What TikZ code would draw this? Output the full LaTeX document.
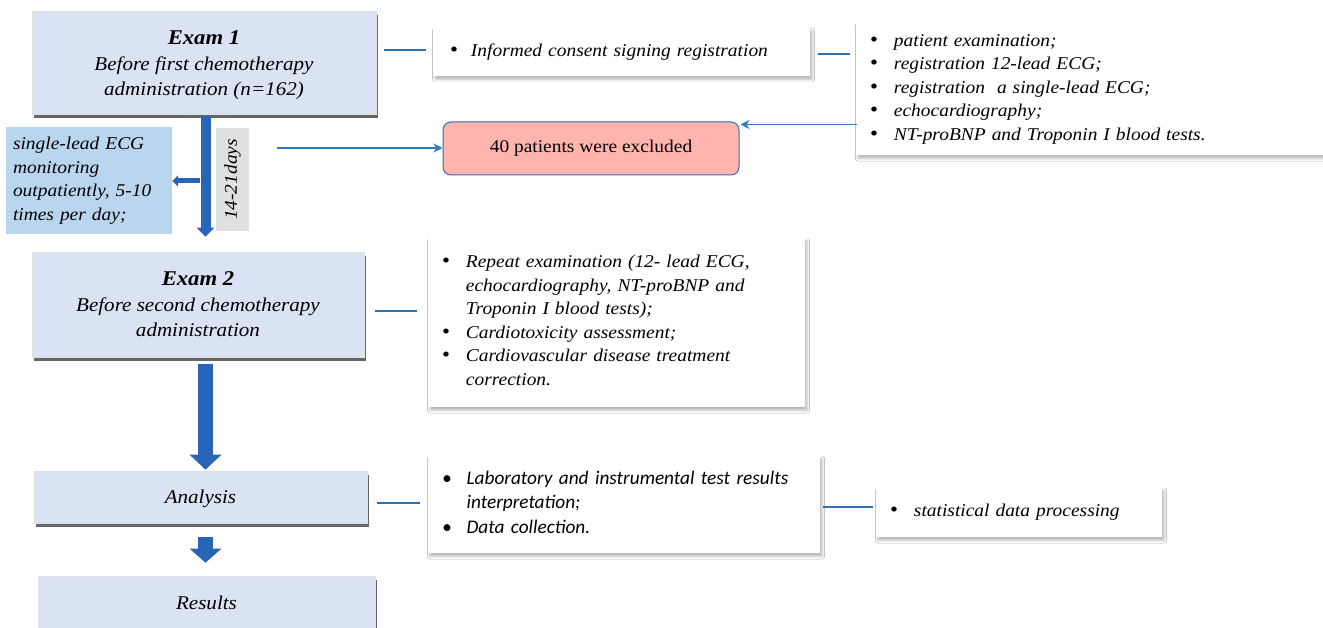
\documentclass[tikz,border=0pt]{standalone}
\usepackage{fontspec}
\setmainfont{Liberation Serif}[FakeStretch=1.08]
\newfontfamily\calib{Carlito}
\usetikzlibrary{arrows.meta,shadows,shadows.blur,calc}
\definecolor{examfill}{HTML}{DAE3F3}
\definecolor{ecgfill}{HTML}{BAD5EE}
\definecolor{conn}{HTML}{2E6FB5}
\definecolor{arrowblue}{HTML}{2E7AC8}
\definecolor{bigblue}{HTML}{2864B8}
\definecolor{pinkfill}{HTML}{FFB4AE}
\definecolor{greylab}{HTML}{E0E0E0}
\newcommand\bul{{\upshape\fontsize{21}{21}\selectfont\textbullet}}
\newcommand\examtitle[1]{{\fontsize{21}{25}\selectfont\bfseries #1}}
\begin{document}
\begin{tikzpicture}[x=1pt,y=-1pt,
  exam/.style={draw=black!12, line width=0.6pt, fill=examfill,
    drop shadow={shadow xshift=1.5pt,shadow yshift=-4pt,fill=black!70,opacity=0.85},
    align=center, inner sep=0pt, font=\fontsize{19.5}{25}\selectfont\itshape},
  wbox/.style={fill=white,
    blur shadow={shadow xshift=2pt,shadow yshift=-3.5pt,shadow blur radius=2.5pt,shadow opacity=28},
    inner sep=0pt, align=left, font=\fontsize{18}{23.5}\selectfont\itshape},
  link/.style={draw=conn, line width=2.4pt},
  thinarrow/.style={draw=arrowblue, line width=1.6pt, -{Stealth[length=9pt,width=9pt]}},
  bigarrow/.style={draw=bigblue},
]
\useasboundingbox (0,0) rectangle (1323,628);
\fill[white] (0,0) rectangle (1323,628);

% left column
\node[exam, minimum width=344, minimum height=103] (e1) at (204,62.5)
  {\rule{0pt}{19pt}\examtitle{Exam 1}\\[1pt]Before first chemotherapy\\administration (n=162)};
\node[fill=ecgfill, minimum width=166, minimum height=107, text width=152,
  inner xsep=7pt, inner ysep=0pt, align=left,
  font=\fontsize{18}{23.5}\selectfont\itshape] (ecg) at (89,180.5)
  {single-lead ECG\\monitoring\\outpatiently, 5-10\\times per day;};
\node[fill=greylab, rotate=90, minimum width=103, minimum height=33, inner sep=0pt,
  font=\fontsize{18}{22}\selectfont\itshape] (days) at (232.5,179.5) {14-21days};
\node[exam, minimum width=332, minimum height=105] (e2) at (198,304.5)
  {\examtitle{Exam 2}\\[1pt]Before second chemotherapy\\administration};
\node[exam, minimum width=333, minimum height=52, text depth=0pt] (ana) at (200.5,497) {Analysis};
\node[exam, minimum width=337, minimum height=54, text depth=0pt] (res) at (206.5,603) {Results};

% excluded
\node[draw=conn, fill=pinkfill, rounded corners=8pt, line width=1pt,
  minimum width=296, minimum height=53, font=\fontsize{18}{22}\selectfont] (excl)
  at (591,148.5) {40 patients were excluded};

% white boxes
\node[wbox, text width=377, minimum height=49] (ic) at (621.5,51.5)
  {\begin{tabular}{@{\hspace*{17pt}}l@{\hspace{13pt}}l@{}}\bul & Informed consent signing registration\end{tabular}};
\node[wbox, text width=467, minimum height=133] (big) at (1089.5,88.5)
  {\begin{tabular}{@{\hspace*{14pt}}l@{\hspace{16pt}}l@{}}
   \bul & patient examination;\\
   \bul & registration 12-lead ECG;\\
   \bul & registration\ \ a single-lead ECG;\\
   \bul & echocardiography;\\
   \bul & NT-proBNP and Troponin I blood tests.
   \end{tabular}};
\node[wbox, text width=377, minimum height=170] (rep) at (616.5,322)
  {\begin{tabular}{@{\hspace*{14pt}}l@{\hspace{16pt}}l@{}}
   \bul & Repeat examination (12- lead ECG,\\
        & echocardiography, NT-proBNP and\\
        & Troponin I blood tests);\\
   \bul & Cardiotoxicity assessment;\\
   \bul & Cardiovascular disease treatment\\
        & correction.
   \end{tabular}};
\node[wbox, text width=392, minimum height=98, font=\fontsize{19.3}{24.5}\selectfont\calib\itshape] (lab) at (624,504)
  {\begin{tabular}{@{\hspace*{14pt}}l@{\hspace{15pt}}l@{}}
   \textbullet & Laboratory and instrumental test results\\
               & interpretation;\\
   \textbullet & Data collection.
   \end{tabular}};
\node[wbox, text width=286, minimum height=50] (stat) at (1019,512)
  {\begin{tabular}{@{\hspace*{14pt}}l@{\hspace{16pt}}l@{}}\bul & statistical data processing\end{tabular}};

% plain links
\draw[link] ($(e1.east |- ic.west)+(8,-1.5)$) -- ($(ic.west)+(-7,-1.5)$);
\draw[link] ($(ic.east)+(8,2.5)$) -- ($(big.west |- ic.east)+(-6,2.5)$);
\draw[link] ($(e2.east)+(11,6.5)$) -- ($(rep.west |- e2.east)+(-11,6.5)$);
\draw[link] ($(ana.east)+(10,6)$) -- ($(lab.west |- ana.east)+(-8,6)$);
\draw[link] ($(lab.east)+(3,3)$) -- ($(stat.west |- lab.east)+(-3,3)$);

% thin arrows
\coordinate (src) at (277,148);
\draw[thinarrow] (src) -- (excl.west |- src);
\draw[thinarrow] ($(big.west |- excl.north east)+(1,3)$) -- ($(excl.north east)+(1,3)$);

% big arrows
\draw[bigarrow, line width=10pt, -{Triangle[length=9pt,width=17pt]}]
  ($(e1.south)+(1.5,2)$) -- ($(e2.north -| e1.south)+(1.5,-15)$);
\coordinate (br) at (200,181);
\draw[bigarrow, line width=5pt, -{Triangle[length=6pt,width=11pt]}] (br) -- (ecg.east |- br);
\draw[bigarrow, line width=15pt, -{Triangle[length=15pt,width=31pt]}]
  ($(e2.south)+(7.5,7)$) -- ($(ana.north -| e2.south)+(7.5,-1)$);
\draw[bigarrow, line width=15pt, -{Triangle[length=14pt,width=31pt]}]
  ($(ana.south)+(5,14)$) -- ($(res.north -| ana.south)+(5,-13)$);
\end{tikzpicture}
\end{document}
